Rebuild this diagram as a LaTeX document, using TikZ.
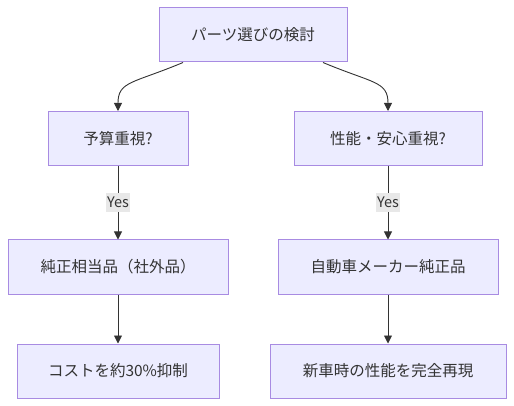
\documentclass[tikz,border=0pt]{standalone}
\usepackage{fontspec}
\setmainfont{Noto Sans CJK JP}
\usetikzlibrary{arrows.meta}
\definecolor{boxfill}{HTML}{ECECFF}
\definecolor{boxline}{HTML}{A88BE2}
\definecolor{ink}{HTML}{333333}
\definecolor{labelbg}{HTML}{E8E8E8}
\tikzset{
    box/.style={draw=boxline, fill=boxfill, line width=1pt, minimum height=54pt,
        text=ink, font=\fontsize{15.5}{18}\selectfont},
    yeslabel/.style={fill=labelbg, text=ink, inner xsep=1.5pt, inner ysep=4pt,
        font=\fontsize{14.5}{16}\selectfont},
    straight/.style={edge from parent path={(\tikzparentnode\tikzparentanchor)
        -- (\tikzchildnode\tikzchildanchor)}},
}
\begin{document}
\begin{tikzpicture}[
        x=1pt, y=1pt,
        level 1/.style={sibling distance=270pt, level distance=103.5pt},
        level 2/.style={level distance=128.5pt, straight},
        level 3/.style={level distance=104pt, straight},
        edge from parent/.style={draw=ink, line width=0.9pt, -{Triangle[width=8pt,length=8pt]}},
        curve left/.style={edge from parent path={([xshift=-70pt]\tikzparentnode.south)
            .. controls +(-50,-21) and +(0,30) .. (\tikzchildnode.north)}},
        curve right/.style={edge from parent path={([xshift=70pt]\tikzparentnode.south)
            .. controls +(50,-21) and +(0,30) .. (\tikzchildnode.north)}},
    ]
        \useasboundingbox (0,0) rectangle (514,-406);
        \node[box, minimum width=188pt] (parts) at (253,-35) {パーツ選びの検討}
        child[curve left] {
            node[box, minimum width=140pt] (budget) {予算重視?}
            child {
                node[box, minimum width=220pt] (compatible) {純正相当品（社外品）}
                child {
                    node[box, minimum width=202pt] (cost) {コストを約30\%抑制}
                }
                edge from parent node[yeslabel] {Yes}
            }
        }
        child[curve right] {
            node[box, minimum width=188pt] (safety) {性能・安心重視?}
            child {
                node[box, minimum width=220pt] (genuine) {自動車メーカー純正品}
                child {
                    node[box, minimum width=236pt] (reproduce) {新車時の性能を完全再現}
                }
                edge from parent node[yeslabel] {Yes}
            }
        };
    \end{tikzpicture}
\end{document}
